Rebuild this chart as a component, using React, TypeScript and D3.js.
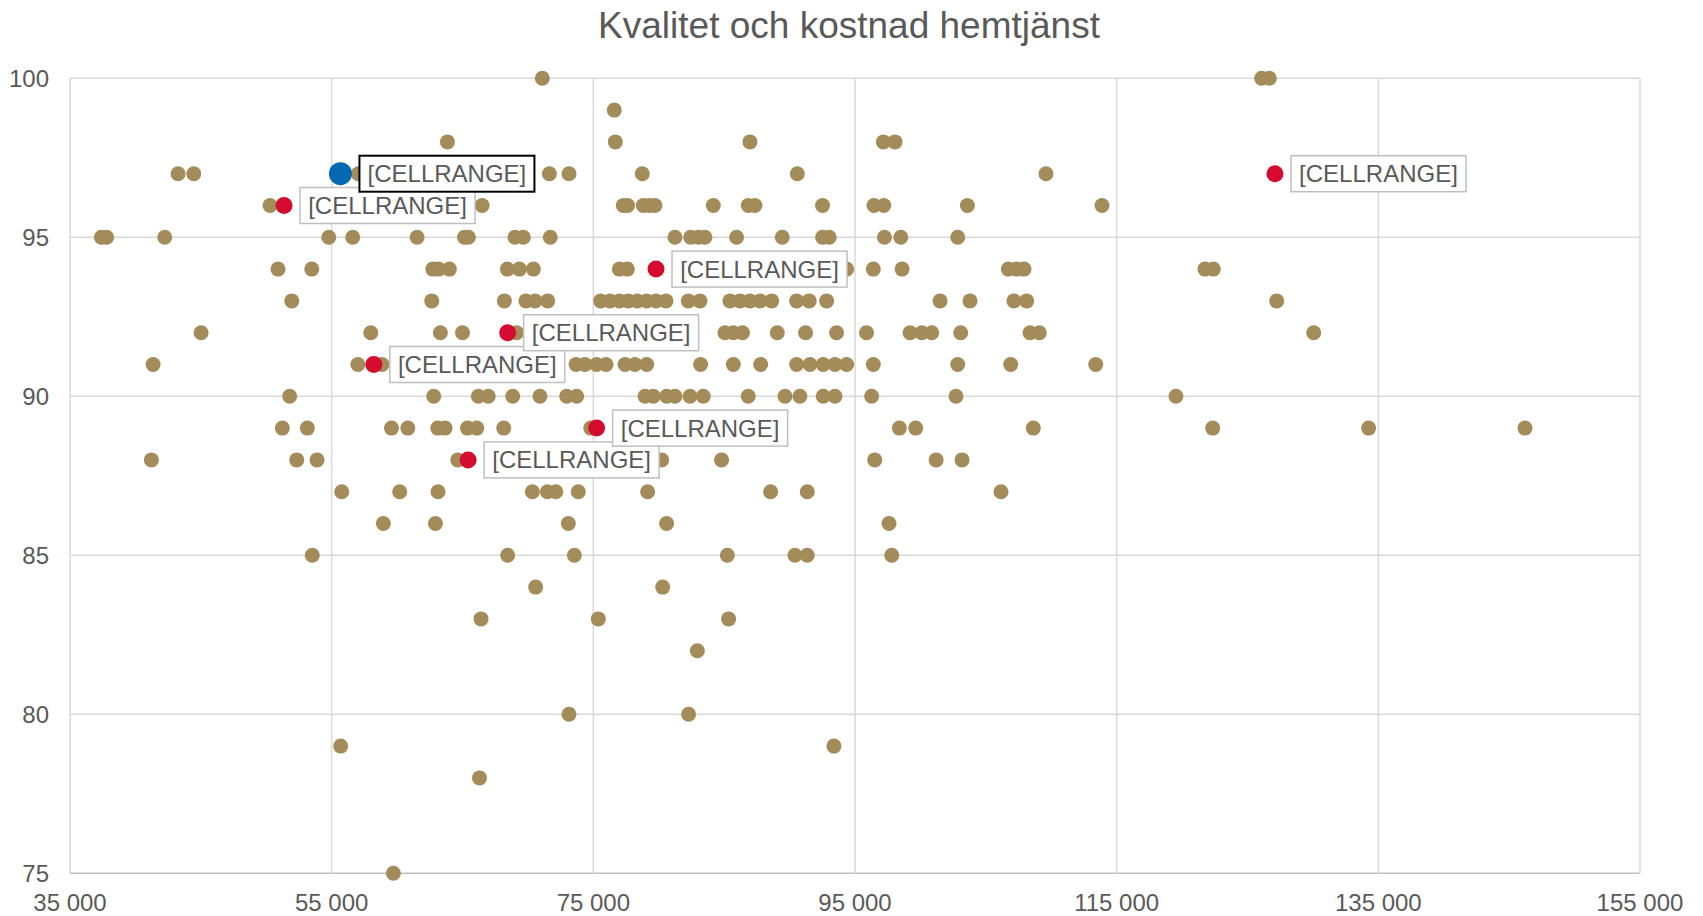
import React from "react";
import * as d3 from "d3";

// kvalitet (y) per rad, och kostnad (x) för alla kommuner på den raden
const qualityLevels = [100, 99, 98, 97, 96, 95, 94, 93, 92, 91, 90, 89, 88, 87, 86, 85, 84, 83, 82, 80, 79, 78, 75];
const costsByLevel = [
  [71100, 126080, 126670],
  [76600],
  [63850, 76680, 86970, 97170, 98060],
  [43260, 44460, 57040, 71640, 73140, 78740, 90590, 109600],
  [50290, 66500, 77290, 77620, 78820, 79280, 79710, 84170, 86840, 87350, 92520, 96450, 97200, 103590, 113880],
  [37400, 37800, 42240, 54780, 56610, 61530, 65150, 65450, 69010, 69650, 71710, 81240, 82440, 83020, 83530, 85950, 89440, 92520, 93030, 97250, 98500, 102850],
  [50900, 53480, 62730, 63160, 64000, 68430, 69350, 70420, 76990, 77600, 94360, 96400, 98600, 106720, 107360, 107920, 121750, 122390],
  [51950, 62650, 68200, 69850, 70540, 71510, 75560, 76270, 76990, 77670, 78360, 79080, 79790, 80550, 82260, 83150, 85440, 86210, 86970, 87740, 88630, 90540, 91500, 92830, 101500, 103790, 107150, 108120, 127230],
  [45020, 57990, 63310, 65000, 69140, 85060, 85700, 86400, 89060, 91220, 93590, 95880, 99210, 100100, 100860, 103080, 108380, 109090, 130060],
  [41350, 57000, 58850, 73680, 74360, 75250, 75970, 77420, 78180, 79080, 83200, 85700, 87790, 90540, 91560, 92570, 93470, 94360, 96400, 102850, 106900, 113400],
  [51790, 62800, 66210, 66970, 68840, 70920, 72960, 73730, 78950, 79580, 80600, 81240, 82390, 83400, 86840, 89650, 90790, 92570, 93470, 96270, 102720, 119530],
  [51230, 53140, 59570, 60820, 63110, 63670, 65380, 66090, 68150, 74800, 98390, 99640, 108630, 122340, 134260, 146210],
  [41220, 52330, 53880, 64640, 80220, 84800, 96510, 101200, 103180],
  [55770, 60200, 63130, 70340, 71490, 72130, 73850, 79150, 88550, 91350, 106160],
  [58950, 62930, 73090, 80600, 97600],
  [53520, 68450, 73550, 85240, 90410, 91350, 97810],
  [70590, 80300],
  [66420, 75380, 85340],
  [82950],
  [73140, 82280],
  [55690, 93390],
  [66300],
  [59720],
];

// jämförelsekommuner (röda) och den egna kommunen (blå)
const markedCost = [51360, 58220, 65430, 68450, 75250, 79790, 127100];
const markedQuality = [96, 91, 88, 92, 89, 94, 97];
const ownCost = 55670;
const ownQuality = 97;
const labelText = "[CELLRANGE]";

const xTicks = [35000, 55000, 75000, 95000, 115000, 135000, 155000];
const yTicks = [75, 80, 85, 90, 95, 100];
const title = "Kvalitet och kostnad hemtjänst";

const width = 1703;
const height = 916;
const fmt = d3.formatLocale({ decimal: ",", thousands: " ", grouping: [3], currency: ["", " kr"] }).format(",");

const FONT = "'Liberation Sans', Arial, sans-serif";
const GOLD = "#A38B5A";
const RED = "#D50B30";
const BLUE = "#0568B3";
const TEXT = "#595959";

export default function App() {
  const x = d3.scaleLinear().domain([35000, 155000]).range([70, 1640]);
  const y = d3.scaleLinear().domain([75, 100]).range([873.3, 78.3]);

  const points = qualityLevels.flatMap((q, i) => costsByLevel[i].map((c) => ({ c, q })));
  const labelW = 175;
  const labelH = 36;

  return (
    <svg width={width} height={height} style={{ position: "absolute", left: 0, top: 0, background: "#fff" }} fontFamily={FONT}>
      <text x={849} y={38} textAnchor="middle" fontSize={37} fill={TEXT}>
        {title}
      </text>

      {yTicks.map((t) => (
        <g key={"y" + t}>
          <line x1={x(35000)} x2={x(155000)} y1={y(t)} y2={y(t)} stroke={t === 75 ? "#BFBFBF" : "#D9D9D9"} strokeWidth={1.5} />
          <text x={49} y={y(t)} dy="0.35em" textAnchor="end" fontSize={24} fill={TEXT}>
            {t}
          </text>
        </g>
      ))}
      {xTicks.map((t) => (
        <g key={"x" + t}>
          <line x1={x(t)} x2={x(t)} y1={y(100)} y2={y(75)} stroke="#D9D9D9" strokeWidth={1.5} />
          <text x={x(t)} y={911} textAnchor="middle" fontSize={24} fill={TEXT}>
            {fmt(t)}
          </text>
        </g>
      ))}

      {points.map((p, i) => (
        <circle key={"p" + i} cx={x(p.c)} cy={y(p.q)} r={7.5} fill={GOLD} />
      ))}
      {markedCost.map((c, i) => (
        <circle key={"m" + i} cx={x(c)} cy={y(markedQuality[i])} r={8.5} fill={RED} />
      ))}
      <circle cx={x(ownCost)} cy={y(ownQuality)} r={11.5} fill={BLUE} />

      {markedCost.map((c, i) => (
        <g key={"l" + i} transform={`translate(${x(c) + 16},${y(markedQuality[i])})`}>
          <rect x={0} y={-labelH / 2} width={labelW} height={labelH} fill="#fff" stroke="#BFBFBF" strokeWidth={1.5} />
          <text x={labelW / 2} y={0} dy="0.35em" textAnchor="middle" fontSize={24} fill={TEXT}>
            {labelText}
          </text>
        </g>
      ))}
      <g transform={`translate(${x(ownCost) + 19},${y(ownQuality)})`}>
        <rect x={0} y={-labelH / 2} width={labelW} height={labelH} fill="#fff" stroke="#000" strokeWidth={2} />
        <text x={labelW / 2} y={0} dy="0.35em" textAnchor="middle" fontSize={24} fill={TEXT}>
          {labelText}
        </text>
      </g>
    </svg>
  );
}
